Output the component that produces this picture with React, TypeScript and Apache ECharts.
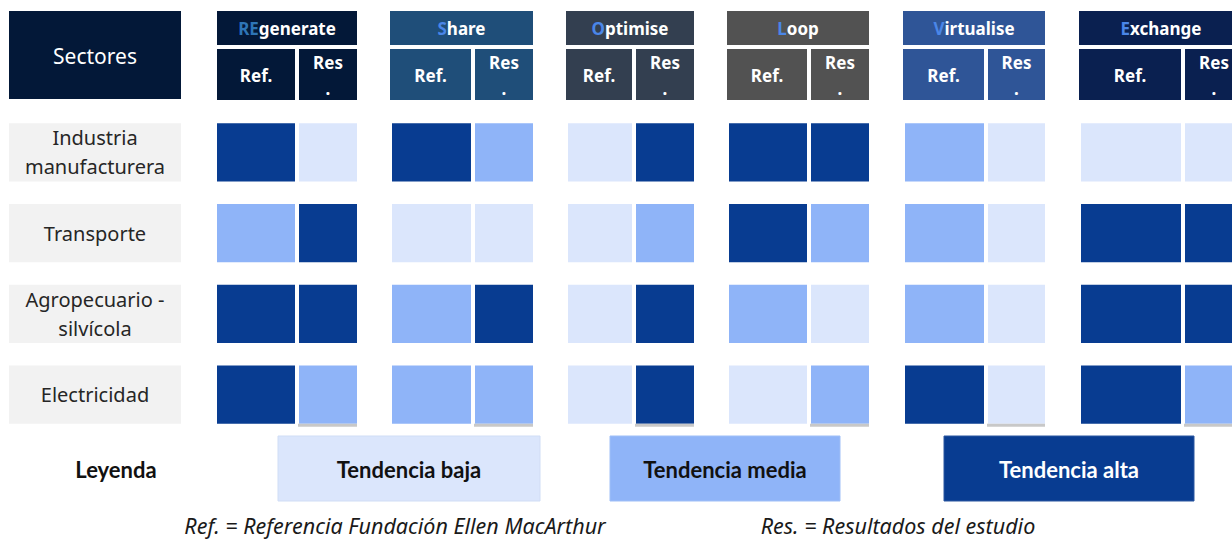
import React, { useEffect, useRef } from "react";
import * as echarts from "echarts";

// ---------- data ----------
const sectors = ["Industria\nmanufacturera", "Transporte", "Agropecuario -\nsilvícola", "Electricidad"];
const strategies = ["REgenerate", "Share", "Optimise", "Loop", "Virtualise", "Exchange"];
const highlightLen = [2, 1, 1, 1, 1, 1];
const subHeaders = ["Ref.", "Res\n."];
const levelNames = ["Tendencia baja", "Tendencia media", "Tendencia alta"];
// 0 = baja, 1 = media, 2 = alta ; rows = sectors, cols = strategies
const refValues = [
  [2, 2, 0, 2, 1, 0],
  [1, 0, 0, 2, 1, 2],
  [2, 1, 0, 1, 1, 2],
  [2, 1, 0, 0, 2, 2],
];
const resValues = [
  [0, 1, 2, 2, 0, 0],
  [2, 0, 1, 1, 0, 2],
  [2, 2, 2, 0, 0, 2],
  [1, 1, 2, 1, 0, 1],
];
const footRef = "Ref. = Referencia Fundación Ellen MacArthur";
const footRes = "Res. = Resultados del estudio";

// ---------- layout / style ----------
const W = 1232;
const H = 539;
const levelColors = ["#dbe6fc", "#8fb4f8", "#083c91"];
const levelText = ["#111111", "#111111", "#ffffff"];
const headerColors = ["#031838", "#1f4e79", "#333f50", "#525252", "#2f5597", "#0a2050"];
const highlightColors = ["#2e75b6", "#4a86e8", "#4a86e8", "#4a86e8", "#4a86e8", "#4a86e8"];
const refX0 = [217, 392, 568, 729, 905, 1081];
const refX1 = [295, 471, 632, 807, 984, 1181];
const resX0 = [299, 475, 636, 811, 988, 1185];
const resX1 = [357, 533, 694, 869, 1045, 1243];
const hdrX0 = [217, 390, 566, 727, 903, 1079];
const hdrRefX1 = [295, 471, 632, 807, 984, 1181];
const legendX = [[278, 540], [610, 840], [944, 1194]];
const FONT = "Noto Sans";

export default function App() {
  const ref = useRef<HTMLDivElement>(null);
  useEffect(() => {
    if (!ref.current) return;
    const chart = echarts.init(ref.current, null, { renderer: "svg" });

    const cellData: number[][] = [];
    sectors.forEach((_, r) => {
      strategies.forEach((_, s) => {
        cellData.push([s, r, 0, refValues[r][s]]);
        cellData.push([s, r, 1, resValues[r][s]]);
      });
    });

    const graphics: any[] = [];
    // Sectores header
    graphics.push({
      type: "rect",
      shape: { x: 9, y: 11, width: 172, height: 88 },
      style: { fill: headerColors[0] },
    });
    graphics.push({
      type: "text",
      x: 95,
      y: 56,
      style: {
        text: "Sectores",
        fill: "#ffffff",
        font: `21px "${FONT}"`,
        align: "center",
        verticalAlign: "middle",
      },
    });
    strategies.forEach((name, s) => {
      const x0 = hdrX0[s];
      const x1 = resX1[s];
      graphics.push({
        type: "rect",
        shape: { x: x0, y: 11, width: x1 - x0, height: 34 },
        style: { fill: headerColors[s] },
      });
      const hl = name.slice(0, highlightLen[s]);
      const rest = name.slice(highlightLen[s]);
      graphics.push({
        type: "text",
        x: (x0 + x1) / 2,
        y: 28.5,
        style: {
          text: `{h|${hl}}{n|${rest}}`,
          align: "center",
          verticalAlign: "middle",
          rich: {
            h: { fill: highlightColors[s], font: `bold 17px "${FONT}"` },
            n: { fill: "#ffffff", font: `bold 17px "${FONT}"` },
          },
        },
      });
      // sub headers
      const subs = [
        [x0, hdrRefX1[s]],
        [resX0[s], resX1[s]],
      ];
      subs.forEach(([a, b], k) => {
        graphics.push({
          type: "rect",
          shape: { x: a, y: 49, width: b - a, height: 51 },
          style: { fill: headerColors[s] },
        });
        graphics.push({
          type: "text",
          x: (a + b) / 2,
          y: 75,
          style: {
            text: subHeaders[k],
            fill: "#ffffff",
            font: `bold 17px "${FONT}"`,
            lineHeight: 26,
            align: "center",
            verticalAlign: "middle",
          },
        });
      });
    });
    // legend
    graphics.push({
      type: "text",
      x: 116,
      y: 469,
      style: {
        text: "Leyenda",
        fill: "#111111",
        font: `bold 22px Lato`,
        align: "center",
        verticalAlign: "middle",
      },
    });
    levelNames.forEach((nm, i) => {
      const [a, b] = legendX[i];
      graphics.push({
        type: "rect",
        shape: { x: a, y: 436, width: b - a, height: 65 },
        style: { fill: levelColors[i], stroke: i === 0 ? "#d0ddf5" : i === 1 ? "#9fbff7" : "#2a56a0", lineWidth: 1 },
      });
      graphics.push({
        type: "text",
        x: (a + b) / 2,
        y: 469,
        style: {
          text: nm,
          fill: levelText[i],
          font: `bold 22px Lato`,
          align: "center",
          verticalAlign: "middle",
        },
      });
    });
    [
      [footRef, 395],
      [footRes, 898],
    ].forEach(([t, x]) => {
      graphics.push({
        type: "text",
        x: x as number,
        y: 525,
        style: {
          text: t as string,
          fill: "#1a1a1a",
          font: `italic 21.5px "${FONT}"`,
          lineHeight: 22,
          align: "center",
          verticalAlign: "middle",
        },
      });
    });

    const option: any = {
      animation: false,
      grid: { left: 0, right: 0, top: 112, bottom: H - 435, containLabel: false },
      xAxis: { type: "value", min: 0, max: W, show: false },
      yAxis: { type: "category", data: sectors, inverse: true, show: false },
      graphic: graphics,
      series: [
        {
          type: "custom",
          data: sectors.map((_, r) => [0, r]),
          renderItem: (params: any, api: any) => {
            const r = api.value(1);
            const p0 = api.coord([9, r]);
            const p1 = api.coord([181, r]);
            const h = api.size([0, 1])[1] * 0.72;
            return {
              type: "group",
              children: [
                {
                  type: "rect",
                  shape: { x: p0[0], y: p0[1] - h / 2, width: p1[0] - p0[0], height: h },
                  style: { fill: "#f2f2f2" },
                },
                {
                  type: "text",
                  x: (p0[0] + p1[0]) / 2,
                  y: p0[1],
                  style: {
                    text: sectors[r],
                    fill: "#262626",
                    font: `20px "${FONT}"`,
                    lineHeight: 29,
                    align: "center",
                    verticalAlign: "middle",
                  },
                },
              ],
            };
          },
        },
        {
          type: "custom",
          data: cellData,
          renderItem: (params: any, api: any) => {
            const s = api.value(0);
            const r = api.value(1);
            const kind = api.value(2);
            const lvl = api.value(3);
            const x0 = kind === 0 ? refX0[s] : resX0[s];
            const x1 = kind === 0 ? refX1[s] : resX1[s];
            const p0 = api.coord([x0, r]);
            const p1 = api.coord([x1, r]);
            const h = api.size([0, 1])[1] * 0.72;
            const y = p0[1] - h / 2;
            const children: any[] = [
              {
                type: "rect",
                shape: { x: p0[0], y, width: p1[0] - p0[0], height: h },
                style: { fill: levelColors[lvl] },
              },
            ];
            if (kind === 1 && r === sectors.length - 1) {
              children.push({
                type: "rect",
                shape: { x: p0[0] - 1, y: y + h, width: p1[0] - p0[0] + 1, height: 3 },
                style: { fill: "#c8c8c8" },
              });
            }
            return { type: "group", children };
          },
        },
      ],
    };
    chart.setOption(option);
    return () => chart.dispose();
  }, []);

  return (
    <div
      ref={ref}
      style={{ position: "fixed", left: 0, top: 0, width: W, height: H, background: "#ffffff" }}
    />
  );
}
